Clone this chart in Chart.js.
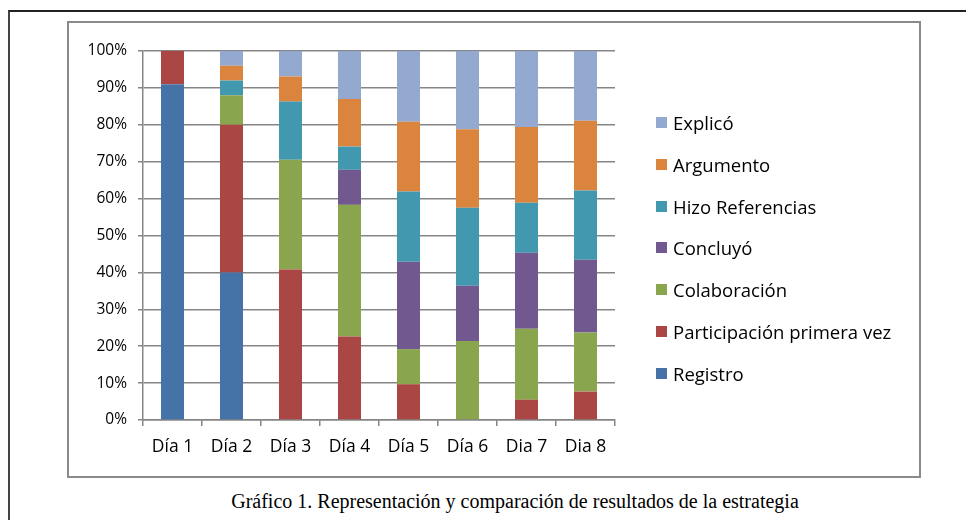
<!DOCTYPE html>
<html>
<head>
<meta charset="utf-8">
<script src="https://cdn.jsdelivr.net/npm/chart.js@4/dist/chart.umd.min.js"></script>
<style>
  body { margin: 0; background: #fff; width: 966px; height: 520px; overflow: hidden; position: relative; }
  #outer { position: absolute; left: 8px; top: 10px; width: 980px; height: 530px; border-left: 2px solid #444; border-top: 2px solid #222; }
  #frame { position: absolute; left: 67px; top: 21px; width: 850px; height: 453px; border: 2px solid #8a8a8a; }
  #skillsChart { position: absolute; left: 68px; top: 23px; }
  #legend { position: absolute; left: 656px; top: 0; font-family: "Open Sans", sans-serif; font-size: 18.5px; color: #000; }
  .item { position: absolute; left: 0; white-space: nowrap; height: 24px; line-height: 24px; }
  .box { position: absolute; left: 0; top: 6px; width: 11px; height: 11px; }
  .txt { position: absolute; left: 17px; top: 0; }
  #caption { position: absolute; left: 0; width: 1030px; top: 490px; text-align: center; font-family: "Liberation Serif", serif; font-size: 20px; color: #000; }
</style>
</head>
<body>
<div id="outer"></div>
<div id="frame"></div>
<canvas id="skillsChart" width="850" height="452"></canvas>
<div id="legend"></div>
<div id="caption">Gráfico 1. Representación y comparación de resultados de la estrategia</div>
<script>
const days = ['Día 1', 'Día 2', 'Día 3', 'Día 4', 'Día 5', 'Día 6', 'Dia 7', 'Dia 8'];
const seriesNames = ['Registro', 'Participación primera vez', 'Colaboración', 'Concluyó', 'Hizo Referencias', 'Argumento', 'Explicó'];
const seriesColors = ['#4572a7', '#aa4643', '#89a54e', '#71588f', '#4198af', '#db843d', '#93a9cf'];

// percentages per day
const registro      = [91, 40, 0, 0, 0, 0, 0, 0];
const participacion = [9, 40, 40.8, 22.6, 9.7, 0, 5.5, 7.7];
const colaboracion  = [0, 8, 29.7, 35.7, 9.5, 21.4, 19.2, 16.0];
const concluyo      = [0, 0, 0, 9.5, 23.7, 15.0, 20.6, 19.7];
const referencias   = [0, 4, 15.8, 6.3, 19.0, 21.1, 13.6, 18.8];
const argumento     = [0, 4, 6.8, 12.9, 18.9, 21.3, 20.5, 18.9];
const explico       = [0, 4, 6.9, 13.0, 19.2, 21.2, 20.6, 18.9];

const seriesValues = [registro, participacion, colaboracion, concluyo, referencias, argumento, explico];

const yFont = { family: '"Open Sans", sans-serif', size: 15.5 };
const xFont = { family: '"Open Sans", sans-serif', size: 17.5 };
const gridColor = '#858585';

const ctx = document.getElementById('skillsChart').getContext('2d');

new Chart(ctx, {
  type: 'bar',
  data: {
    labels: days,
    datasets: seriesNames.map((name, i) => ({
      label: name,
      data: seriesValues[i],
      backgroundColor: seriesColors[i],
      borderWidth: 0,
      barPercentage: 0.39,
      categoryPercentage: 1.0
    }))
  },
  options: {
    responsive: false,
    animation: false,
    layout: { padding: { top: 28, right: 303, left: 0, bottom: 0 } },
    plugins: {
      legend: { display: false },
      tooltip: { enabled: false }
    },
    scales: {
      x: {
        stacked: true,
        grid: { drawOnChartArea: false, offset: true, tickLength: 6, color: gridColor, lineWidth: 1.5 },
        border: { color: gridColor, width: 1.5 },
        ticks: { font: xFont, color: '#000', padding: 11, maxRotation: 0 },
        afterFit: scale => { scale.height = 55; }
      },
      y: {
        stacked: true,
        min: 0,
        max: 100,
        grid: { color: gridColor, lineWidth: 1.5, tickLength: 5 },
        border: { color: gridColor, width: 1.5 },
        ticks: { stepSize: 10, font: yFont, color: '#000', padding: 11, callback: v => v + '%' },
        afterFit: scale => { scale.width = 75; }
      }
    }
  }
});

// legend, listed top-down in reverse stacking order
const legend = document.getElementById('legend');
seriesNames.slice().reverse().forEach((name, k) => {
  const i = seriesNames.length - 1 - k;
  const item = document.createElement('div');
  item.className = 'item';
  item.style.top = (111 + k * 41.8) + 'px';
  item.innerHTML = '<span class="box" style="background:' + seriesColors[i] + '"></span><span class="txt">' + name + '</span>';
  legend.appendChild(item);
});
</script>
</body>
</html>
